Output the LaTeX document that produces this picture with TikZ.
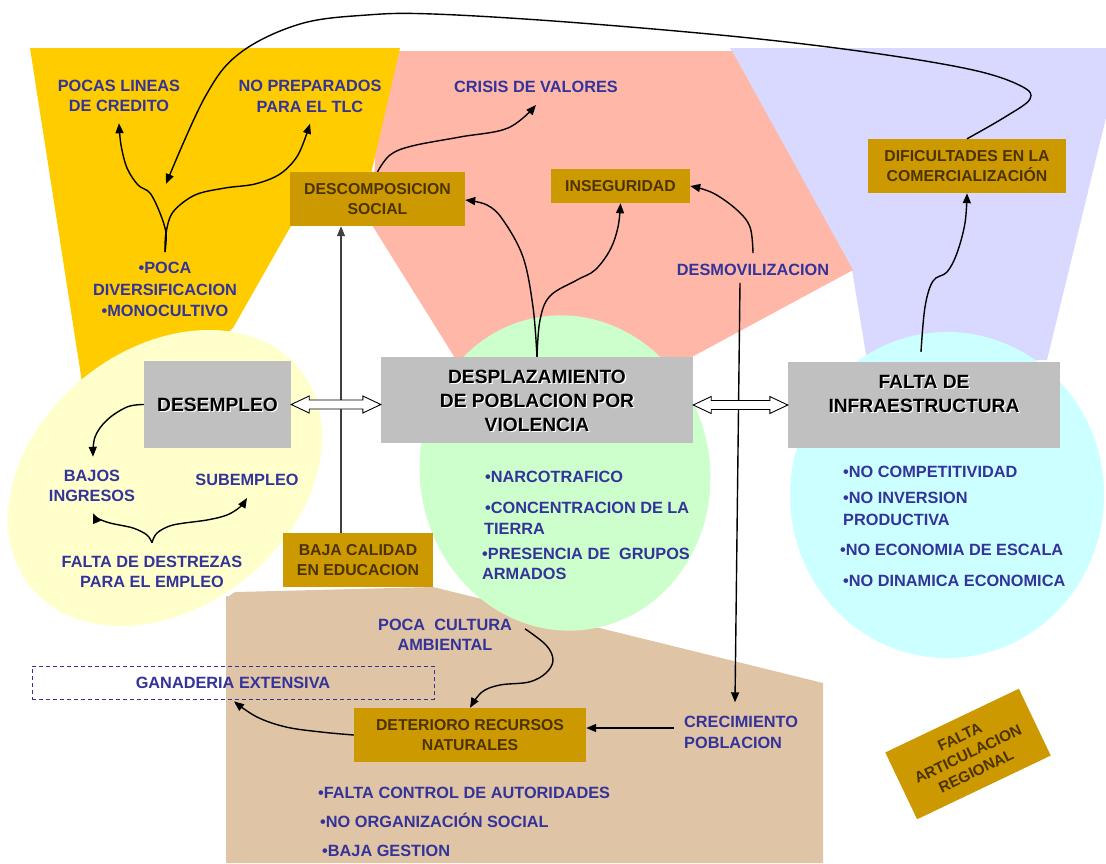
\documentclass[tikz,border=0pt]{standalone}
\usepackage{fontspec}
\setmainfont{Liberation Sans}
\usetikzlibrary{calc,arrows.meta}
\definecolor{gold}{RGB}{255,204,0}
\definecolor{salmon}{RGB}{255,183,168}
\definecolor{lavender}{RGB}{217,217,255}
\definecolor{tanbg}{RGB}{224,196,166}
\definecolor{lyellow}{RGB}{255,255,204}
\definecolor{lgreen}{RGB}{204,255,204}
\definecolor{lcyan}{RGB}{204,255,255}
\definecolor{boxgray}{RGB}{192,192,192}
\definecolor{boxbrown}{RGB}{204,153,0}
\definecolor{txtblue}{RGB}{51,51,153}
\definecolor{txtbrown}{RGB}{77,51,0}
\begin{document}
\begin{tikzpicture}[x=1pt,y=-1pt,
  btxt/.style={text=txtblue, font=\bfseries\fontsize{16.3}{20.5}\selectfont, inner sep=0pt, align=center},
  ltxt/.style={text=txtblue, font=\bfseries\fontsize{16.3}{20.5}\selectfont, inner sep=0pt, anchor=base west},
  brbox/.style={fill=boxbrown, text=txtbrown, font=\bfseries\fontsize{15.8}{20.5}\selectfont, align=center, inner sep=0pt},
  gbox/.style={fill=boxgray, inner sep=0pt},
  gtxt/.style={font=\bfseries\fontsize{19.2}{24}\selectfont, align=center, inner sep=0pt},
  conn/.style={line width=1.4pt, -{Triangle[length=10pt,width=8pt]}},
  blockarrow/.style={draw=black, fill=white, line width=0.9pt, line join=miter}
]
\useasboundingbox (0,0) rectangle (1106,863);
\fill[white] (0,0) rectangle (1106,863);

% ---------- background regions ----------
\fill[lavender] (730,48) -- (1123,48) -- (1047,360) -- (867,360) -- (852,270) -- cycle;
\fill[salmon] (380,51) -- (732,51) -- (853,270) -- (690,358) -- (455,358) -- (372,225) -- cycle;
\fill[gold] (30,48) -- (400,48) -- (365,200) -- (300,210) -- (233,328) -- (222,338) -- (82,382) -- cycle;
\fill[tanbg] (226,596) to[out=-45,in=180] (236,592) -- (433,587) -- (823,683) -- (823,863) -- (226,863) -- cycle;
\fill[lyellow, rotate around={39:(165,478)}] (165,478) ellipse [x radius=173pt, y radius=129pt];
\fill[lgreen, rotate around={10:(565,473)}] (565,473) ellipse [x radius=145pt, y radius=158pt];
\fill[lcyan] (947,495) ellipse [x radius=157pt, y radius=163pt];

% ---------- gray boxes ----------
\node[gbox, minimum width=147pt, minimum height=87pt] (desemp) at (217.5,404.5) {};
\node[gtxt, white] at ($(desemp)+(1.3,1.3)$) {DESEMPLEO};
\node[gtxt] at (desemp) {DESEMPLEO};

\node[gbox, minimum width=312pt, minimum height=86pt] (dpl) at (537,400) {};
\node[gtxt, white] at ($(dpl)+(1.3,2.3)$) {DESPLAZAMIENTO\\DE POBLACION POR\\VIOLENCIA};
\node[gtxt] at ($(dpl)+(0,1)$) {DESPLAZAMIENTO\\DE POBLACION POR\\VIOLENCIA};

\node[gbox, minimum width=272pt, minimum height=86pt] (infra) at (924,405) {};
\node[gtxt, white] at ($(infra)+(1.3,-10.2)$) {FALTA DE\\INFRAESTRUCTURA};
\node[gtxt] at ($(infra)+(0,-11.5)$) {FALTA DE\\INFRAESTRUCTURA};

% ---------- brown boxes ----------
\node[brbox, minimum width=175pt, minimum height=54pt] (descomp) at (377.5,199) {DESCOMPOSICION\\SOCIAL};
\node[brbox, minimum width=139pt, minimum height=34pt] (inseg) at (620.5,186) {INSEGURIDAD};
\node[brbox, minimum width=198pt, minimum height=54pt] (dif) at (967,166) {DIFICULTADES EN LA\\COMERCIALIZACIÓN};
\node[brbox, minimum width=150pt, minimum height=54pt] (baja) at (358,560) {BAJA CALIDAD\\EN EDUCACION};
\node[brbox, minimum width=232pt, minimum height=54pt] (deter) at (470,735) {DETERIORO RECURSOS\\NATURALES};
\begin{scope}[shift={(968,754)}, x=1pt, y=1pt]
\node[brbox, minimum width=148pt, minimum height=74pt, rotate=25.5, font=\bfseries\fontsize{15.3}{19}\selectfont] (art) at (0,0) {FALTA\\ARTICULACION\\REGIONAL};
\end{scope}

% ---------- blue texts ----------
\node[btxt] (pocas) at (119,96) {POCAS LINEAS\\DE CREDITO};
\node[btxt] (noprep) at (310,96.5) {NO PREPARADOS\\PARA EL TLC};
\node[btxt, font=\bfseries\fontsize{16.3}{21.5}\selectfont] (poca) at (165,289.5) {•POCA\\DIVERSIFICACION\\•MONOCULTIVO};
\node[btxt] (crisis) at (536,87) {CRISIS DE VALORES};
\node[btxt] (desmov) at (753,270) {DESMOVILIZACION};
\node[btxt] (bajos) at (92,486) {BAJOS\\INGRESOS};
\node[btxt] (subemp) at (247,480) {SUBEMPLEO};
\node[btxt] (destr) at (152,572) {FALTA DE DESTREZAS\\PARA EL EMPLEO};
\node[btxt] (cultura) at (445,635) {POCA\ \ CULTURA\\AMBIENTAL};
\node[btxt, draw=txtblue, dash pattern=on 4pt off 3pt, line width=0.8pt, minimum width=402pt, minimum height=33pt] (ganad) at (233,682.5) {GANADERIA EXTENSIVA};
\node[btxt, align=left, anchor=west] (crec) at (684,732.5) {CRECIMIENTO\\POBLACION};

\node[ltxt] (g1) at (485,482) {•NARCOTRAFICO};
\node[ltxt] (g2) at (485,513) {•CONCENTRACION DE LA};
\node[ltxt] (g3) at (484,534) {TIERRA};
\node[ltxt] (g4) at (482,559) {•PRESENCIA DE\ \ GRUPOS};
\node[ltxt] (g5) at (482,579) {ARMADOS};

\node[ltxt] (c1) at (843,477) {•NO COMPETITIVIDAD};
\node[ltxt] (c2) at (843,503) {•NO INVERSION};
\node[ltxt] (c3) at (843,525) {PRODUCTIVA};
\node[ltxt] (c4) at (840,555) {•NO ECONOMIA DE ESCALA};
\node[ltxt] (c5) at (843,586) {•NO DINAMICA ECONOMICA};

\node[ltxt] (t1) at (318,798) {•FALTA CONTROL DE AUTORIDADES};
\node[ltxt] (t2) at (320,827) {•NO ORGANIZACIÓN SOCIAL};
\node[ltxt] (t3) at (322,856) {•BAJA GESTION};

% ---------- coordinates for connectors ----------
\coordinate (pdtop) at ($(poca.north)+(0,-10)$);
\coordinate (pocatip) at ($(pocas.south)+(0,11)$);
\coordinate (noptip) at ($(noprep.south)+(0,11)$);
\coordinate (bigend) at (166,184);
\coordinate (crisistip) at ($(crisis.south)+(0,12)$);
\coordinate (dplstart) at (dpl.north);
\coordinate (desmovtop) at ($(desmov.north)+(0,-11)$);
\coordinate (desmovbot) at ($(desmov.south)+(-13,7)$);
\coordinate (crectip) at ($(crec.north west)+(51,-14)$);
\coordinate (infratop) at ($(infra.north)+(-3,-10)$);
\coordinate (bajostip) at ($(bajos.north)+(1,-13)$);
\coordinate (bajosbot) at ($(bajos.south)+(1,11)$);
\coordinate (destrtop) at ($(destr.north)+(0,-13)$);
\coordinate (subtip) at ($(subemp.south)+(0,12)$);
\coordinate (cultstart) at ($(cultura.north east)+(13,10)$);
\coordinate (ganadtip) at ($(ganad.south)+(1,2)$);

% ---------- connectors ----------
\draw[conn] plot[smooth, tension=0.6] coordinates {(dif.north) (1005,117) (1030,99) (1021,86) (973,70) (873,53) (740,37) (567,22) (433,14) (367,15) (300,24) (240,53) (205,97) (bigend)};

\draw[conn] plot[smooth, tension=0.55] coordinates {(pdtop) (166,233) (160,213) (150,193) (138,185) (127,168) (121,145) (pocatip)};
\draw[conn] plot[smooth, tension=0.55] coordinates {(pdtop) (166,233) (173,212) (195,195) (225,188) (255,184) (280,174) (298,155) (noptip)};

\draw[conn] plot[smooth, tension=0.6] coordinates {(descomp.north) (390,155) (412,146) (460,137) (508,128) (crisistip)};
\draw[conn] plot[smooth, tension=0.6] coordinates {(dplstart) (533,307) (523,257) (503,220) (487,205) ($(descomp.east)+(0,1)$)};
\draw[conn] plot[smooth, tension=0.6] coordinates {(dplstart) (540,320) (550,296) (577,280) (595,270) (610,250) (618,227) (inseg.south)};
\draw[conn] plot[smooth, tension=0.6] coordinates {(desmovtop) (750,227) (737,210) (713,193) (inseg.east)};
\draw[conn] (desmovbot) -- (crectip);
\draw[conn] plot[smooth, tension=0.6] coordinates {(infratop) (925,307) (933,281) (947,272) (957,253) (965,223) (dif.south)};

\draw[conn] plot[smooth, tension=0.6] coordinates {(desemp.west) (127,407) (107,420) (95,437) (bajostip)};
\draw[conn] plot[smooth, tension=0.55] coordinates {(destrtop) (147,535) (133,528) (110,523) (97,518) (bajosbot)};
\draw[conn] plot[smooth, tension=0.55] coordinates {(destrtop) (157,533) (173,525) (207,520) (227,515) (240,507) (subtip)};

\draw[line width=1.2pt, black!75, -{Triangle[length=10pt,width=8pt]}] ($(baja.north)+(-17,0)$) -- ($(descomp.south)+(-36.5,0)$);

\draw[conn] plot[smooth, tension=0.6] coordinates {(cultstart) (546,645) (553,660) (546,673) (529,682) (500,685) (482,692) (deter.north)};
\draw[conn] plot[smooth, tension=0.6] coordinates {(deter.west) (321,732) (286,727) (257,717) (ganadtip)};
\draw[conn] ($(crec.west)+(-10,-4.5)$) -- ($(deter.east)+(0,-7)$);

% ---------- block double arrows ----------
\coordinate (A1) at (desemp.east);
\coordinate (B1) at (desemp.east -| dpl.west);
\draw[blockarrow] (A1) -- ++(18,-8.5) -- ++(0,4) -- ($(B1)+(-18,-4.5)$) -- ++(0,-4) -- (B1) -- ++(-18,8.5) -- ++(0,-4) -- ($(A1)+(18,4.5)$) -- ++(0,4) -- cycle;
\coordinate (B2) at (infra.west);
\coordinate (A2) at (infra.west -| dpl.east);
\draw[blockarrow] (A2) -- ++(18,-8.5) -- ++(0,4) -- ($(B2)+(-18,-4.5)$) -- ++(0,-4) -- (B2) -- ++(-18,8.5) -- ++(0,-4) -- ($(A2)+(18,4.5)$) -- ++(0,4) -- cycle;
\end{tikzpicture}
\end{document}
